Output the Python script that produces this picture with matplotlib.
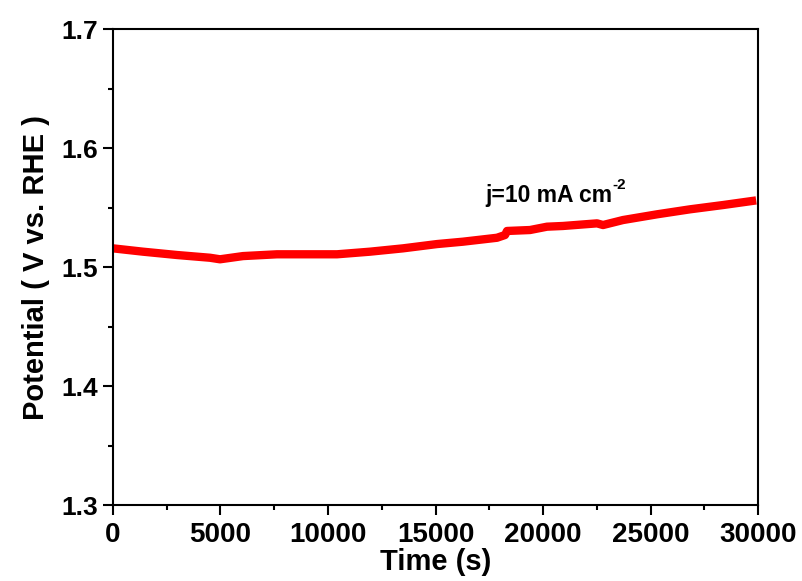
import matplotlib.pyplot as plt
from matplotlib.ticker import MultipleLocator

plt.rcParams['font.family'] = ['Liberation Sans', 'DejaVu Sans']
plt.rcParams['font.weight'] = 'bold'

# chronopotentiometry trace
time_s = [0, 1395, 2977, 4512, 4977, 6047, 7628, 8837, 10419, 11953, 13488,
          15070, 16279, 17860, 18233, 18326, 19395, 20186, 20930, 22512,
          22791, 23721, 25302, 26837, 28372, 29721]
potential = [1.5157, 1.5129, 1.5101, 1.5078, 1.5065, 1.5092, 1.5107, 1.5107,
             1.5107, 1.5129, 1.5157, 1.5193, 1.5213, 1.5246, 1.5269, 1.5303,
             1.5311, 1.5339, 1.5345, 1.5367, 1.5353, 1.5395, 1.5443, 1.5485,
             1.5521, 1.5555]

fig = plt.figure(figsize=(8.03, 5.81), dpi=100)
ax = fig.add_axes([0.1407, 0.1308, 0.8033, 0.8192])

ax.plot(time_s, potential, color='red', linewidth=6, solid_joinstyle='round')

ax.set_xlim(0, 30000)
ax.set_ylim(1.3, 1.7)
ax.xaxis.set_major_locator(MultipleLocator(5000))
ax.xaxis.set_minor_locator(MultipleLocator(2500))
ax.yaxis.set_major_locator(MultipleLocator(0.1))
ax.yaxis.set_minor_locator(MultipleLocator(0.05))
ax.yaxis.set_major_formatter(plt.FormatStrFormatter('%.1f'))

for s in ax.spines.values():
    s.set_linewidth(1.5)
ax.tick_params(which='both', direction='out', top=False, right=False, width=1.5)
ax.tick_params(which='major', length=7)
ax.tick_params(axis='y', which='major', pad=4, labelsize=19)
ax.tick_params(axis='x', which='major', pad=5, labelsize=20)
ax.tick_params(which='minor', length=3.5)
for lab in ax.get_xticklabels() + ax.get_yticklabels():
    lab.set_fontweight('bold')

ax.set_xlabel('Time (s)', fontsize=21, fontweight='bold', labelpad=0)
ax.set_ylabel('Potential ( V vs. RHE )', fontsize=21, fontweight='bold', labelpad=8)

t = ax.text(17300, 1.5549, 'j=10 mA cm', fontsize=16.5, fontweight='bold')
ax.annotate('-2', xy=(1.0, 0.62), xycoords=t, fontsize=11, fontweight='bold',
            ha='left', va='bottom')

fig.savefig('out.png', dpi=100)
